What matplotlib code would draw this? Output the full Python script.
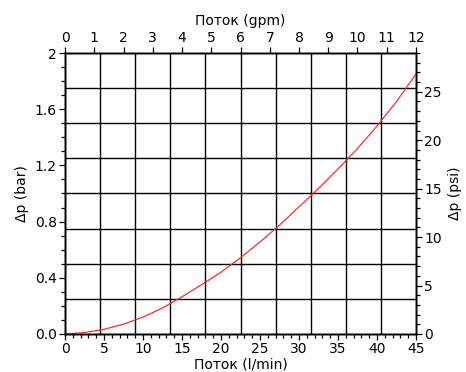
import numpy as np
import matplotlib
matplotlib.use("Agg")
import matplotlib.pyplot as plt
from matplotlib.ticker import MultipleLocator, FixedLocator

# curve: flow (l/min) vs pressure drop (bar)
flow = [0, 2.5, 5, 7.5, 10, 12.5, 15, 17.5, 20, 22.5, 25, 27.5, 30, 32.5, 35, 37.5, 40, 42.5, 45]
dp = [0, 0.01, 0.033, 0.07, 0.12, 0.185, 0.265, 0.35, 0.44, 0.543, 0.655, 0.775, 0.905, 1.035,
      1.175, 1.32, 1.48, 1.655, 1.85]

grid_x = [4.5, 9, 13.5, 18, 22.5, 27, 31.5, 36, 40.5]
grid_y = [0.25, 0.5, 0.75, 1.0, 1.25, 1.5, 1.75]
bar_ticks = [0, 0.4, 0.8, 1.2, 1.6, 2]
bar_labels = ['0.0', '0.4', '0.8', '1.2', '1.6', '2']

plt.rcParams['font.family'] = 'DejaVu Sans'
fig = plt.figure(figsize=(4.66, 3.72), dpi=100)
ax = fig.add_axes([0.1395, 0.1022, 0.7532, 0.7553])

for gx in grid_x:
    ax.axvline(gx, color='black', lw=1.0, zorder=1)
for gy in grid_y:
    ax.axhline(gy, color='black', lw=1.0, zorder=1)

ax.plot(flow, dp, color='#ff2a2a', lw=0.9, zorder=3)

ax.set_xlim(0, 45)
ax.set_ylim(0, 2)
ax.xaxis.set_major_locator(MultipleLocator(5))
ax.xaxis.set_minor_locator(MultipleLocator(1))
ax.yaxis.set_major_locator(FixedLocator(bar_ticks))
ax.set_yticklabels(bar_labels)
ax.yaxis.set_minor_locator(MultipleLocator(0.1))
ax.set_xlabel('Поток (l/min)', fontsize=10, labelpad=1)
ax.set_ylabel('Δp (bar)', fontsize=10, labelpad=4)

# top axis in gpm
axt = ax.twiny()
axt.set_xlim(0, 12)
axt.xaxis.set_major_locator(MultipleLocator(1))
axt.set_xlabel('Поток (gpm)', fontsize=10, labelpad=4)

# right axis in psi
axr = ax.twinx()
axr.set_ylim(0, 2 * 14.5)
axr.yaxis.set_major_locator(MultipleLocator(5))
axr.yaxis.set_minor_locator(MultipleLocator(1))
axr.set_ylabel('Δp (psi)', fontsize=10, labelpad=4)

for a in (ax, axt, axr):
    a.tick_params(which='major', length=4, width=0.9, labelsize=10, pad=2)
    a.tick_params(which='minor', length=3, width=0.9)
    for s in a.spines.values():
        s.set_linewidth(1.0)

fig.savefig('out.png', dpi=100)
